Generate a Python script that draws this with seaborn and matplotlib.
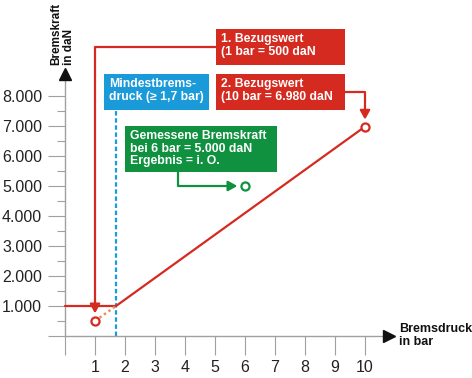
import matplotlib
matplotlib.use("Agg")
import matplotlib.pyplot as plt
import seaborn as sns
import pandas as pd
from matplotlib.patches import Rectangle

# ---- data ----
curve_pressure = [0, 1.7, 10]
curve_force = [1000, 1000, 6980]
dotted_pressure = [1, 1.7]
dotted_force = [500, 1000]
ref_pressure = [1, 10]
ref_force = [500, 6980]
meas_pressure = [6]
meas_force = [5000]
min_pressure = [1.7]
x_ticks = list(range(0, 11))
x_ticklabels = [""] + [str(i) for i in range(1, 11)]
y_ticks = list(range(0, 9000, 1000))
y_ticklabels = [""] + [f"{i}.000" for i in range(1, 9)]
y_minor = list(range(500, 8000, 1000))

RED = "#d42a20"
GREEN = "#0f9140"
BLUE = "#1a9ad9"
ORANGE = "#e8906a"
GREY = "#a0a0a0"

sns.set_theme(style="white")
plt.rcParams["font.family"] = ["Liberation Sans", "DejaVu Sans"]

W, H = 472, 378
fig = plt.figure(figsize=(4.72, 3.78), dpi=100)
ax = fig.add_axes([0, 0, 1, 1])
ax.set_facecolor("white")
ax.set_xlim(-65 / 30, 407 / 30)
ax.set_ylim(-42 / 0.03, 336 / 0.03)


def P(px, py):
    return (px / W, 1 - py / H)


# axes styling
for s in ["top", "right"]:
    ax.spines[s].set_visible(False)
ax.spines["left"].set_position(("data", 0))
ax.spines["bottom"].set_position(("data", 0))
ax.spines["left"].set_bounds(0, 8730)
ax.spines["bottom"].set_bounds(0, 10.8)
for s in ["left", "bottom"]:
    ax.spines[s].set_color(GREY)
    ax.spines[s].set_linewidth(1.0)

ax.set_xticks(x_ticks)
ax.set_xticklabels(x_ticklabels)
ax.set_yticks(y_ticks)
ax.set_yticklabels(y_ticklabels)
ax.set_yticks(y_minor, minor=True)
ax.tick_params(axis="x", which="both", bottom=True, top=False, direction="out",
               length=13.5, width=0.8, color=GREY, pad=4, labelsize=11.5,
               labelcolor="#222222")
ax.tick_params(axis="y", which="major", left=True, right=False, direction="out",
               length=12.5, width=0.8, color=GREY, pad=4, labelsize=11.5,
               labelcolor="#222222")
ax.tick_params(axis="y", which="minor", left=True, right=False, direction="out",
               length=6, width=0.8, color=GREY)
ax.set_xlabel("")
ax.set_ylabel("")

# axis arrows
ax.plot(0, 8730, marker="^", ms=8, color="#111111", clip_on=False, zorder=5)
ax.plot(10.8, 0, marker=">", ms=8, color="#111111", clip_on=False, zorder=5)

# axis titles
ax.text(*P(63, 65), "Bremskraft\nin daN", transform=ax.transAxes, rotation=90,
        ha="center", va="bottom", multialignment="left", fontsize=8.5,
        fontweight="bold", color="#111111", linespacing=1.1)
ax.text(*P(399, 323), "Bremsdruck\nin bar", transform=ax.transAxes,
        ha="left", va="top", fontsize=9, fontweight="bold",
        color="#111111", linespacing=1.1)

# minimum pressure line
ymin_frac = P(0, 336)[1]
ymax_frac = P(0, 110)[1]
ax.axvline(min_pressure[0], ymin=ymin_frac, ymax=ymax_frac, color=BLUE,
           lw=1.6, linestyle=(0, (2, 1.2)), zorder=2)

# main curve
df = pd.DataFrame({"p": curve_pressure, "f": curve_force})
sns.lineplot(data=df, x="p", y="f", ax=ax, color=RED, lw=1.6, sort=False,
             zorder=3)
ax.plot(dotted_pressure, dotted_force, color=ORANGE, lw=1.8,
        linestyle=(0, (1, 1.2)), zorder=3)

# points
sns.scatterplot(x=ref_pressure, y=ref_force, ax=ax, marker="o", s=34,
                facecolor="white", edgecolor=RED, linewidth=1.6, zorder=6)
sns.scatterplot(x=meas_pressure, y=meas_force, ax=ax, marker="o", s=34,
                facecolor="white", edgecolor=GREEN, linewidth=1.6, zorder=6)
ax.set_xlabel("")
ax.set_ylabel("")


# boxes
def box(x0, y0, x1, y1, color, text):
    (ax0, ay1) = P(x0, y1)
    (ax1, ay0) = P(x1, y0)
    ax.add_patch(Rectangle((ax0, ay1), ax1 - ax0, ay0 - ay1,
                           transform=ax.transAxes, facecolor=color,
                           edgecolor="none", zorder=7, clip_on=False))
    ax.text(*P(x0 + 5, y0 + 4), text, transform=ax.transAxes, ha="left",
            va="top", fontsize=8.8, fontweight="bold", color="white",
            linespacing=1.08, zorder=8)


box(216, 29, 345, 65, RED, "1. Bezugswert\n(1 bar = 500 daN")
box(216, 74, 345, 110, RED, "2. Bezugswert\n(10 bar = 6.980 daN")
box(104, 74, 209, 110, BLUE, "Mindestbrems-\ndruck (\u2265 1,7 bar)")
box(125, 126, 277, 172, GREEN,
    "Gemessene Bremskraft\nbei 6 bar = 5.000 daN\nErgebnis = i. O.")

# connectors
arrow = "-|>,head_length=0.45,head_width=0.25"
ax.annotate("", xy=(ref_pressure[0], ref_force[0]), xycoords="data",
            xytext=P(216, 47), textcoords="axes fraction",
            arrowprops=dict(arrowstyle=arrow, color=RED, lw=1.6,
                            connectionstyle="angle,angleA=180,angleB=90,rad=0",
                            shrinkA=0, shrinkB=5.5), zorder=4)
ax.annotate("", xy=(ref_pressure[1], ref_force[1]), xycoords="data",
            xytext=P(345, 92), textcoords="axes fraction",
            arrowprops=dict(arrowstyle=arrow, color=RED, lw=1.6,
                            connectionstyle="angle,angleA=0,angleB=90,rad=0",
                            shrinkA=0, shrinkB=5), zorder=4)
ax.annotate("", xy=(meas_pressure[0], meas_force[0]), xycoords="data",
            xytext=P(178, 172), textcoords="axes fraction",
            arrowprops=dict(arrowstyle=arrow, color=GREEN, lw=1.6,
                            connectionstyle="angle,angleA=-90,angleB=0,rad=0",
                            shrinkA=0, shrinkB=5.5), zorder=4)

fig.savefig("out.png", dpi=100)
